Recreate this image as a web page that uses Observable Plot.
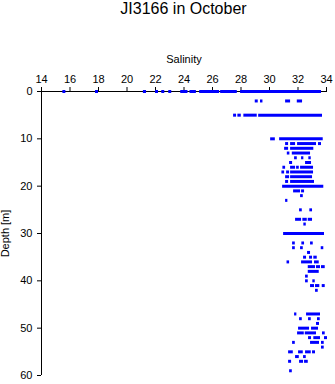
<!DOCTYPE html>
<html><head><meta charset="utf-8">
<script src="https://cdn.jsdelivr.net/npm/d3@7"></script>
<script src="https://cdn.jsdelivr.net/npm/@observablehq/plot@0.6"></script>
<style>
body{margin:0;background:#fff;}
#wrap{position:relative;width:335px;height:384px;}
#title{position:absolute;left:41px;width:285px;top:1px;text-align:center;font-family:"Liberation Sans",Arial,sans-serif;font-size:16px;line-height:16px;color:#000;}
</style></head><body>
<div id="wrap"><div id="title">JI3166 in October</div></div>
<script>
const title = "JI3166 in October";
const xLabel = "Salinity";
const yLabel = "Depth [m]";
const xTicks = [14, 16, 18, 20, 22, 24, 26, 28, 30, 32, 34];
const yTicks = [0, 10, 20, 30, 40, 50, 60];
// observed runs of salinity points: [depth (m), salinity from, salinity to]
const runs = [
  [0,15.50,15.71],[0,17.79,18.00],[0,21.15,21.37],[0,22.00,22.21],[0,22.44,22.65],[0,22.93,23.14],
  [0,23.77,24.28],[0,24.42,24.87],[0,25.10,26.50],[0,26.57,27.74],[0,27.97,33.65],
  [2,29.00,29.21],[2,29.37,29.54],[2,31.13,31.48],[2,31.95,32.32],
  [5,27.48,27.69],[5,27.78,28.02],[5,28.20,29.14],[5,29.24,33.72],
  [10,30.08,30.41],[10,30.71,33.77],
  [11,31.13,31.34],[11,31.48,31.83],[11,31.97,33.30],[11,33.44,33.65],
  [12,31.06,31.34],[12,31.48,33.11],
  [13,31.25,31.43],[13,31.60,32.88],
  [14,31.76,31.95],[14,32.25,32.41],[14,32.76,32.93],
  [15,31.41,31.62],[15,32.53,32.95],
  [16,30.94,31.13],[16,31.48,31.83],[16,31.90,32.09],[16,32.18,33.09],
  [17,30.87,31.06],[17,31.20,31.41],[17,31.48,33.09],
  [18,31.13,31.41],[18,31.48,33.02],
  [19,31.13,31.34],[19,31.48,33.16],
  [20,30.92,33.81],
  [21,31.69,32.18],[21,32.25,32.46],
  [22,32.18,32.37],
  [23,31.13,31.29],
  [25,32.11,32.30],[25,32.83,33.02],
  [27,31.83,32.25],[27,32.34,32.65],[27,32.72,33.02],
  [28,32.41,32.58],
  [30,30.99,33.86],
  [32,31.62,31.81],[32,32.27,32.46],[32,32.88,33.07],
  [33,31.62,31.81],[33,32.18,32.37],[33,33.63,33.81],
  [34,32.67,32.88],
  [35,32.39,32.60],[35,32.81,33.02],[35,33.11,33.35],
  [36,31.23,31.41],[36,32.25,33.02],[36,33.16,33.49],
  [37,32.72,33.23],[37,33.30,33.58],[37,33.65,33.91],
  [38,32.72,33.49],
  [39,32.53,32.72],
  [40,32.53,32.72],[40,33.04,33.21],
  [41,32.88,33.16],[41,33.23,33.53],[41,33.70,33.91],
  [42,33.23,33.42],
  [47,31.76,31.92],[47,32.60,33.58],
  [48,32.11,32.30],[48,32.74,32.93],[48,33.37,33.56],
  [49,33.30,33.51],
  [50,32.04,32.81],[50,32.95,33.44],
  [51,31.97,32.44],[51,32.51,33.30],[51,33.72,33.91],
  [52,32.74,32.95],[52,33.11,33.58],[52,33.86,34.07],
  [53,31.62,31.81],[53,32.88,33.51],[53,33.65,33.84],
  [54,33.65,33.84],
  [55,31.34,31.67],[55,32.04,32.37],[55,32.53,32.93],[55,33.02,33.23],
  [56,31.83,32.09],[56,32.39,32.58],
  [57,31.34,31.55],[57,32.11,32.39],[57,32.46,32.72],
  [59,31.41,31.60]
];
document.getElementById("title").textContent = title;
const chart = Plot.plot({
  width: 335, height: 384,
  marginTop: 91, marginLeft: 41, marginRight: 9, marginBottom: 9,
  style: {fontFamily: '"Liberation Sans", Arial, sans-serif', fontSize: "11px", background: "transparent", color: "black"},
  x: {domain: [14, 34], axis: "top", ticks: xTicks, tickSize: 5, tickPadding: 4,
      label: xLabel, labelAnchor: "center", labelArrow: "none", labelOffset: 36},
  y: {domain: [0, 60], reverse: true, ticks: yTicks, tickSize: 4, tickPadding: 5,
      label: yLabel, labelAnchor: "center", labelArrow: "none", labelOffset: 40},
  marks: [
    Plot.ruleY([0], {stroke: "black"}),
    Plot.ruleX([14], {stroke: "black"}),
    Plot.ruleY(runs, {y: d => d[0], x1: d => d[1], x2: d => d[2], stroke: "#0000ff", strokeWidth: 3})
  ]
});
document.getElementById("wrap").prepend(chart);
chart.style.position = "absolute";
chart.style.left = "0";
chart.style.top = "0";
</script>
</body></html>
